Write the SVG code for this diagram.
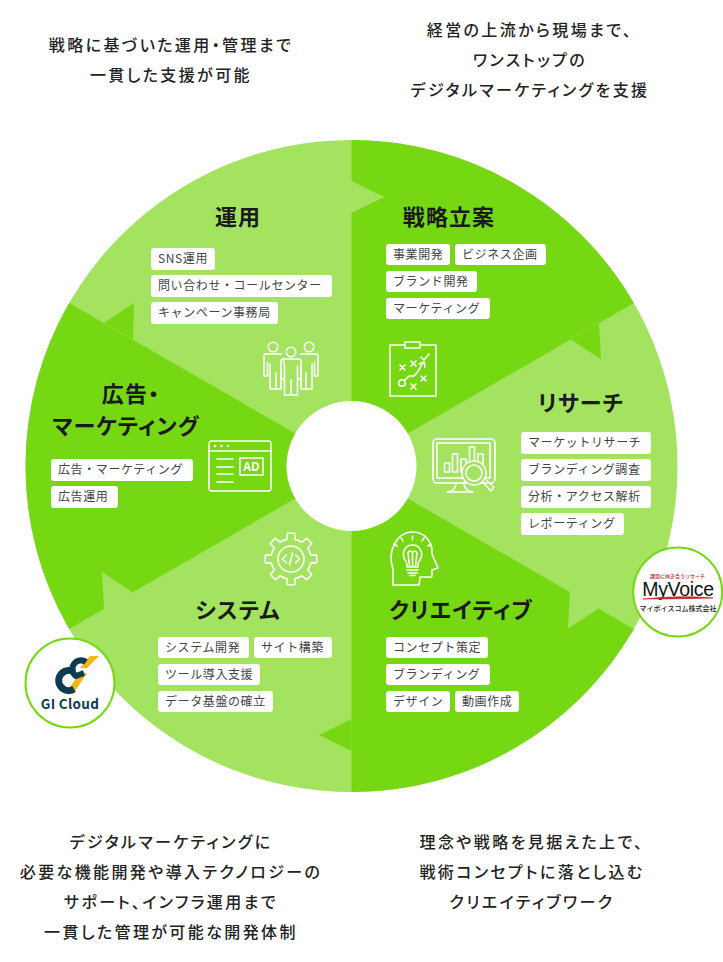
<svg xmlns="http://www.w3.org/2000/svg" xmlns:xlink="http://www.w3.org/1999/xlink" width="723" height="962" viewBox="0 0 723 962">
<style>
text{font-family:"Noto Sans CJK JP","Noto Sans",sans-serif;fill:#222}
.dark{fill:#76d813}
.light{fill:#a3e360}
.cap{font-size:16px;font-weight:500;letter-spacing:2.4px;text-anchor:middle;font-feature-settings:"palt"}
.title{font-size:22px;font-weight:700;letter-spacing:1.1px;text-anchor:middle;fill:#1a1a1a;font-feature-settings:"palt"}
.tag{fill:#fff}
.tl{font-size:12px;letter-spacing:.6px;fill:#444}
.ic{fill:none;stroke:#fff;stroke-width:1.6;stroke-linejoin:round;stroke-linecap:round}
</style>
<defs><path id="tooth" d="M-7.65-18.48L-4.16-19.56L-3.6-25.7L3.6-25.7L4.16-19.56L7.65-18.48"/></defs>

<g id="captions">
<text class="cap" x="171" y="51">戦略に基づいた運用・管理まで</text>
<text class="cap" x="171" y="81">一貫した支援が可能</text>
<text class="cap" x="530" y="36">経営の上流から現場まで、</text>
<text class="cap" x="530" y="66">ワンストップの</text>
<text class="cap" x="530" y="96">デジタルマーケティングを支援</text>
<text class="cap" x="171" y="848">デジタルマーケティングに</text>
<text class="cap" x="171" y="878">必要な機能開発や導入テクノロジーの</text>
<text class="cap" x="171" y="908">サポート、インフラ運用まで</text>
<text class="cap" x="171" y="938">一貫した管理が可能な開発体制</text>
<text class="cap" x="532" y="848">理念や戦略を見据えた上で、</text>
<text class="cap" x="532" y="878">戦術コンセプトに落とし込む</text>
<text class="cap" x="532" y="908">クリエイティブワーク</text>
</g>

<g id="wheel">
<circle class="light" cx="351.5" cy="466" r="326"/>
<path class="dark" d="M351.5 466V140A326 326 0 0 1 633.8 303L351.5 466Z"/>
<path class="dark" d="M351.5 466L633.8 629A326 326 0 0 1 351.5 792Z"/>
<path class="dark" d="M351.5 466L69.2 629A326 326 0 0 1 69.2 303Z"/>
<path class="light" d="M351.5 181L384 197L351.5 213L345 213L345 181Z"/>
<path class="dark" d="M570 339L599 322L601 359Z"/>
<path class="light" d="M570 592L568 628.500L598 609L600 590Z"/>
<path class="dark" d="M351.500 719L319 735L351.500 751Z"/>
<path class="light" d="M132 592L102 572L104 608L104 620L130 605Z"/>
<path class="dark" d="M104 323L134 303L133 340Z"/>
<path d="M570 339L599 322.300M104 323L133 340" stroke="#a3e360" stroke-width=".6" opacity=".7" fill="none"/>
<circle cx="351.5" cy="466" r="65" fill="#fff"/>
</g>

<g id="connectors"></g>

<g id="node-unyo">
<text class="title" x="238" y="225">運用</text>
<rect class="tag" x="151" y="248" width="64" height="22" rx="3"/><text class="tl" x="158" y="263">SNS運用</text>
<rect class="tag" x="151" y="275" width="181" height="22" rx="3"/><text class="tl" x="158" y="290">問い合わせ・コールセンター</text>
<rect class="tag" x="151" y="302" width="127" height="22" rx="3"/><text class="tl" x="158" y="317">キャンペーン事務局</text>
<g class="ic">
<circle cx="273" cy="347" r="4.700"/><circle cx="291" cy="352" r="4.700"/><circle cx="309" cy="347" r="4.700"/>
<path d="M281.500 354H266Q264 354 264 356V376H267.500V362M270 364V389H281V380"/>
<path d="M300.500 354H316Q318 354 318 356V376H314.500V362M312 364V389H301V380"/>
<path d="M283 359H299Q301 359 301 361V379H297.500V366M284.500 366V379H281V361Q281 359 283 359ZM284.500 366V395H297.500V366M291 380V395"/>
<path d="M276 373V389M306 373V389"/>
</g>
</g>

<g id="node-senryaku">
<text class="title" x="449" y="225">戦略立案</text>
<rect class="tag" x="386" y="244" width="64" height="21" rx="3"/><text class="tl" x="393" y="259">事業開発</text>
<rect class="tag" x="455" y="244" width="91" height="21" rx="3"/><text class="tl" x="462" y="259">ビジネス企画</text>
<rect class="tag" x="386" y="271" width="91" height="21" rx="3"/><text class="tl" x="393" y="286">ブランド開発</text>
<rect class="tag" x="386" y="298" width="104" height="21" rx="3"/><text class="tl" x="393" y="313">マーケティング</text>
<g class="ic">
<rect x="390" y="345" width="46" height="51"/>
<rect x="405" y="342" width="15" height="6" fill="#76d813"/>
<path d="M400 365l5 5m0-5l-5 5M411 361l5 5m0-5l-5 5M421 357l3 3 5-6M421 376l5 5m0-5l-5 5M411 384l5 5m0-5l-5 5"/>
<circle cx="402" cy="383" r="3.300"/>
<path d="M405 380Q409 375 412 376T420 368L423 362M419 364L424 362L425 367"/>
</g>
</g>

<g id="node-research">
<text class="title" x="581" y="411">リサーチ</text>
<rect class="tag" x="521" y="432" width="130" height="22" rx="3"/><text class="tl" x="528" y="447">マーケットリサーチ</text>
<rect class="tag" x="521" y="459" width="130" height="22" rx="3"/><text class="tl" x="528" y="474">ブランディング調査</text>
<rect class="tag" x="521" y="486" width="130" height="22" rx="3"/><text class="tl" x="528" y="501">分析・アクセス解析</text>
<rect class="tag" x="521" y="513" width="103" height="22" rx="3"/><text class="tl" x="528" y="528">レポーティング</text>
<g class="ic">
<rect x="433" y="439" width="62" height="44" rx="4"/>
<rect x="437" y="443" width="53" height="35"/>
<path d="M456 483Q456 491 447 492H473Q464 491 464 483"/>
<rect x="444.500" y="463" width="5" height="9"/><rect x="452.500" y="454" width="5" height="18"/><rect x="461" y="459" width="5" height="13"/><rect x="469.500" y="447" width="5" height="15"/><rect x="478" y="454" width="5" height="10"/>
<circle cx="474" cy="473" r="12" fill="#a3e360"/><circle cx="474" cy="473" r="8"/>
<path d="M483 482L491 491L494 487L486 480"/>
</g>
</g>

<g id="node-creative">
<g class="ic">
<path d="M393 585V569C387 552 396 532 413 532C426 532 433 544 432 554L438 568L432 570V576Q432 578 428 577L420 577L419 585Z"/>
<path d="M407 567H418V565Q418 562 420 560C424 553 420 545 412.500 545C405 545 401 553 405 560Q407 562 407 565Z"/>
<path d="M407 570H418M408 573H417M410 575.500H415M409.500 566L408 553M415.500 566L417 553M408 553A2 2 0 1 1 412.500 554A2 2 0 1 1 417 553M412.500 554V566"/>
<path d="M397 546l-3-2M403 541l-2-3M412.500 540v-4M422 541l2-3M428 546l3-2"/>
</g>
<text class="title" x="461" y="618">クリエイティブ</text>
<rect class="tag" x="386" y="637" width="102" height="21" rx="3"/><text class="tl" x="393" y="652">コンセプト策定</text>
<rect class="tag" x="386" y="664" width="104" height="21" rx="3"/><text class="tl" x="393" y="679">ブランディング</text>
<rect class="tag" x="386" y="691" width="64" height="21" rx="3"/><text class="tl" x="393" y="706">デザイン</text>
<rect class="tag" x="455" y="691" width="64" height="21" rx="3"/><text class="tl" x="462" y="706">動画作成</text>
</g>

<g id="node-system">
<g class="ic" transform="translate(291 559)">
<use xlink:href="#tooth"/><use xlink:href="#tooth" transform="rotate(45)"/><use xlink:href="#tooth" transform="rotate(90)"/><use xlink:href="#tooth" transform="rotate(135)"/><use xlink:href="#tooth" transform="rotate(180)"/><use xlink:href="#tooth" transform="rotate(225)"/><use xlink:href="#tooth" transform="rotate(270)"/><use xlink:href="#tooth" transform="rotate(315)"/>
<circle r="13"/>
<path d="M-4.500-4L-8.500 0L-4.500 4M4.500-4L8.500 0L4.500 4M1.500-6L-1.500 6"/>
</g>
<text class="title" x="238" y="618">システム</text>
<rect class="tag" x="158" y="637" width="91" height="21" rx="3"/><text class="tl" x="165" y="652">システム開発</text>
<rect class="tag" x="254" y="637" width="78" height="21" rx="3"/><text class="tl" x="261" y="652">サイト構築</text>
<rect class="tag" x="158" y="664" width="102" height="21" rx="3"/><text class="tl" x="165" y="679">ツール導入支援</text>
<rect class="tag" x="158" y="691" width="115" height="21" rx="3"/><text class="tl" x="165" y="706">データ基盤の確立</text>
</g>

<g id="node-ad">
<text class="title" x="131" y="402">広告・</text>
<text class="title" x="126" y="434">マーケティング</text>
<rect class="tag" x="51" y="459" width="142" height="22" rx="3"/><text class="tl" x="58" y="474">広告・マーケティング</text>
<rect class="tag" x="51" y="486" width="67" height="22" rx="3"/><text class="tl" x="58" y="501">広告運用</text>
<g class="ic">
<rect x="209" y="441" width="62" height="50" rx="3"/>
<path d="M209 451H271M217 459H233M217 467H233M217 474H233M217 482H233"/>
<rect x="240" y="458" width="23" height="17"/>
</g>
<circle cx="215" cy="446" r="1.300" fill="#fff"/><circle cx="221.500" cy="446" r="1.300" fill="#fff"/><circle cx="228" cy="446" r="1.300" fill="#fff"/>
<text x="251.500" y="471" text-anchor="middle" style="font-size:12px;font-weight:700;fill:#fff">AD</text>
</g>

<g id="node-gicloud">
<circle cx="70" cy="683" r="44.500" fill="#fff" stroke="#76d813" stroke-width="2"/>
<path d="M90 656H99L87 668H80ZM80 673H87L73 694H65Z" fill="#f6b60f"/>
<path d="M74 672A10 10 0 1 0 74 689" fill="none" stroke="#0f3a52" stroke-width="7"/>
<path d="M86 662A8.500 8.500 0 1 0 76 676L84 673" fill="none" stroke="#0f3a52" stroke-width="6"/>
<text x="70" y="709" text-anchor="middle" style="font-size:13.500px;font-weight:700;fill:#0f3a52;letter-spacing:.3px">GI Cloud</text>
</g>

<g id="node-myvoice">
<circle cx="677.700" cy="592" r="44.500" fill="#fff" stroke="#76d813" stroke-width="2"/>
<text x="677.500" y="577.500" text-anchor="middle" style="font-size:5px;fill:#c0202a;font-weight:500">課題に向き合うリサーチ</text>
<text x="678" y="596" text-anchor="middle" style="font-family:'Liberation Sans',sans-serif;font-size:19.500px;letter-spacing:-.3px;fill:#111">MyVoice</text>
<path d="M643 599Q680 595 713 598Q680 599 643 599Z" fill="#c0202a" stroke="#c0202a" stroke-width=".6"/>
<text x="678" y="611" text-anchor="middle" style="font-size:7px;font-weight:500;fill:#222">マイボイスコム株式会社</text>
</g>
</svg>
